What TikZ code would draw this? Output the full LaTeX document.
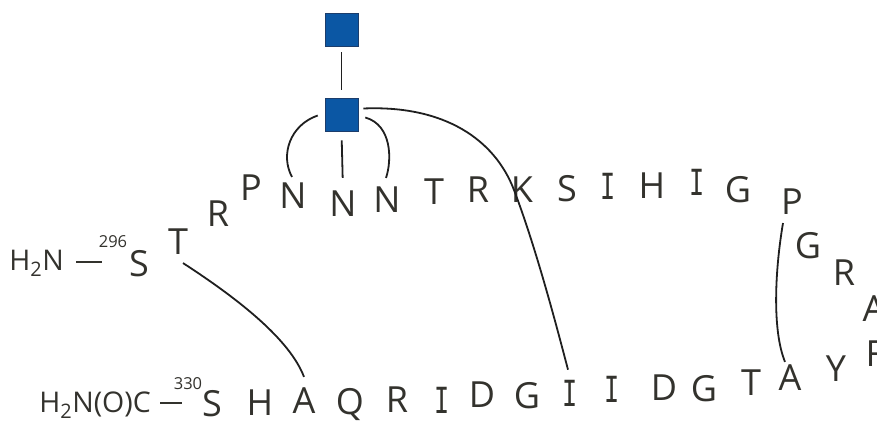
\documentclass[tikz,border=0pt]{standalone}
\usepackage{fontspec}
\setmainfont{Open Sans}
\newfontfamily\serifi{DejaVu Sans Mono}
\usetikzlibrary{calc}
\definecolor{aacol}{HTML}{33322D}
\definecolor{glcnac}{HTML}{0B57A4}
\definecolor{glcedge}{HTML}{1C3D6B}
\tikzset{
  aa/.style={inner sep=0pt, text depth=0pt, text=aacol,
             font=\fontsize{36}{36}\selectfont},
  ai/.style={aa, font=\fontsize{36}{36}\selectfont\serifi, xscale=0.7},
  term/.style={inner sep=0pt, text=aacol, font=\fontsize{28.5}{28.5}\selectfont},
  resno/.style={inner sep=0pt, text=aacol, font=\fontsize{16.5}{16.5}\selectfont},
  sugar/.style={draw=glcedge, line width=0.6pt, fill=glcnac,
                minimum size=33pt, inner sep=0pt},
  bond/.style={line width=1.8pt, draw=black!88},
  termbond/.style={line width=1.5pt, draw=aacol}
}
\begin{document}
\begin{tikzpicture}[x=1pt, y=-1pt]
\useasboundingbox (0,0) rectangle (877,421);
\begin{scope}
\clip (0,0) rectangle (877,421);

% N-terminus
\node[term, anchor=east] (nterm) at (64,263) {H\textsubscript{2}N};
\coordinate (nd1) at (76,262);
\coordinate (nd2) at (102,262);
\draw[termbond] (nd1) -- (nd2);
\node[resno] (r296) at (113,242) {296};

% upper strand
\node[aa] (s296) at (139,263) {S};
\node[aa] (t297) at (178,242) {T};
\node[aa] (r298) at (218,214) {R};
\node[aa] (p299) at (251,188) {P};
\node[aa] (n300) at (293,196) {N};
\node[aa] (n301) at (343,204) {N};
\node[aa] (n302) at (387,200) {N};
\node[aa] (t303) at (434,192) {T};
\node[aa] (r304) at (478,190) {R};
\node[aa] (k305) at (522,190) {K};
\node[aa] (s306) at (567,188) {S};
\node[ai] (i307) at (608,186) {I};
\node[aa] (h308) at (652,186) {H};
\node[ai] (i309) at (697,182) {I};
\node[aa] (g310) at (738,189) {G};
\node[aa] (p311) at (792,202) {P};
\node[aa] (g312) at (808,245) {G};
\node[aa] (r313) at (844,273) {R};
\node[aa] (a314) at (874,309) {A};
\node[aa] (f315) at (875,354) {F};

% lower strand
\node[aa] (y316) at (836,369) {Y};
\node[aa] (a317) at (790,378) {A};
\node[aa] (t318) at (751,383) {T};
\node[aa] (g319) at (704,388) {G};
\node[aa] (d320) at (664,388) {D};
\node[ai] (i321) at (612,389) {I};
\node[ai] (i322) at (570,393) {I};
\node[aa] (g323) at (527,395) {G};
\node[aa] (d324) at (482,395) {D};
\node[ai] (i325) at (442,400) {I};
\node[aa] (r326) at (397,400) {R};
\node[aa] (q327) at (350,401) {Q};
\node[aa] (a328) at (304,401) {A};
\node[aa] (h329) at (260,403) {H};
\node[aa] (s330) at (212,403) {S};
\node[resno] (r330) at (188,384) {330};

% C-terminus
\coordinate (cd1) at (160,403);
\coordinate (cd2) at (182,403);
\draw[termbond] (cd1) -- (cd2);
\node[term, anchor=east] (cterm) at (151,405) {H\textsubscript{2}N(O)C};

% glycan
\node[sugar] (sq1) at (341.5,29.5) {};
\node[sugar] (sq2) at (341.5,114.5) {};
\draw[bond, shorten <=6pt, shorten >=8pt] (sq1.south) -- (sq2.north);
\draw[bond, shorten <=9pt, shorten >=13pt] (sq2.south) -- (n301.north);
\draw[bond] ($(sq2.west)+(-7,1)$) .. controls (290,125) and (280,155) .. ($(n300.north)+(-1,-6)$);
\draw[bond] ($(sq2.east)+(7,3)$) .. controls (392,125) and (392,160) .. ($(n302.north)+(-1,-9)$);
\draw[bond] ($(sq2.east)+(5,-6)$) .. controls (445,105) and (495,140) .. (514,190)
            .. controls (535,245) and (555,320) .. ($(i322.north)+(-2,-10)$);

% disulfide bridges
\draw[bond] ($(t297.south)+(5,8)$) .. controls (240,300) and (290,340) .. ($(a328.north)+(0,-11)$);
\draw[bond] ($(p311.south)+(-9,8)$) .. controls (775,270) and (772,330) .. ($(a317.north)+(-5,-3)$);
\end{scope}
\end{tikzpicture}
\end{document}
